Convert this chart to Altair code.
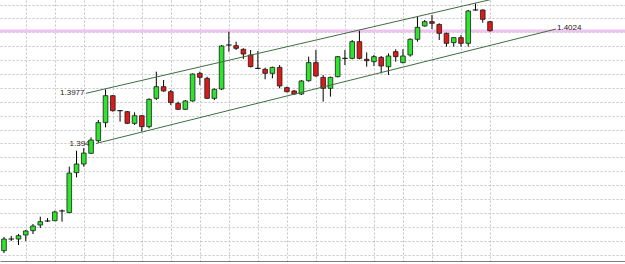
import altair as alt
import pandas as pd

# OHLC prices (EURUSD-like quotes)
opens = [1.38658, 1.38742, 1.38742, 1.38771, 1.38802, 1.38843, 1.38872, 1.38874, 1.38944, 1.38932,
         1.39220, 1.39282, 1.39359, 1.39450, 1.39580, 1.39774, 1.39666, 1.39659, 1.39575, 1.39630,
         1.39551, 1.39755, 1.39839, 1.39803, 1.39719, 1.39676, 1.39736, 1.39935, 1.39899, 1.39755,
         1.39822, 1.40139, 1.40134, 1.40108, 1.40067, 1.39971, 1.39964, 1.39935, 1.39978, 1.39832,
         1.39808, 1.39786, 1.39882, 1.40012, 1.39906, 1.39827, 1.39911, 1.40043, 1.40043, 1.40163,
         1.40036, 1.40019, 1.40050, 1.39983, 1.40091, 1.40012, 1.40067, 1.40180, 1.40276, 1.40307,
         1.40287, 1.40223, 1.40156, 1.40192, 1.40151, 1.40391, 1.40391, 1.40307]
closes = [1.38742, 1.38742, 1.38766, 1.38800, 1.38836, 1.38867, 1.38872, 1.38937, 1.38944, 1.39217,
          1.39282, 1.39361, 1.39455, 1.39580, 1.39774, 1.39666, 1.39666, 1.39575, 1.39630, 1.39551,
          1.39748, 1.39839, 1.39808, 1.39724, 1.39676, 1.39736, 1.39930, 1.39906, 1.39755, 1.39820,
          1.40132, 1.40139, 1.40115, 1.40074, 1.39983, 1.39971, 1.39935, 1.39978, 1.39844, 1.39803,
          1.39786, 1.39880, 1.40012, 1.39916, 1.39827, 1.39906, 1.40055, 1.40043, 1.40163, 1.40043,
          1.40026, 1.40055, 1.39988, 1.40060, 1.40055, 1.40060, 1.40180, 1.40266, 1.40307, 1.40295,
          1.40223, 1.40151, 1.40192, 1.40151, 1.40384, 1.40391, 1.40324, 1.40242]
highs = [1.38757, 1.38764, 1.38778, 1.38807, 1.38850, 1.38903, 1.38893, 1.38946, 1.38955, 1.39263,
         1.39378, 1.39397, 1.39474, 1.39599, 1.39820, 1.39779, 1.39669, 1.39664, 1.39654, 1.39635,
         1.39755, 1.39947, 1.39887, 1.39815, 1.39731, 1.39743, 1.39935, 1.39947, 1.39911, 1.39827,
         1.40139, 1.40235, 1.40163, 1.40115, 1.40103, 1.40096, 1.39976, 1.39983, 1.39995, 1.39839,
         1.39815, 1.39887, 1.40055, 1.40103, 1.39923, 1.39911, 1.40060, 1.40103, 1.40175, 1.40242,
         1.40086, 1.40067, 1.40060, 1.40079, 1.40108, 1.40108, 1.40187, 1.40343, 1.40319, 1.40355,
         1.40295, 1.40228, 1.40194, 1.40211, 1.40391, 1.40438, 1.40396, 1.40312]
lows = [1.38641, 1.38728, 1.38699, 1.38728, 1.38778, 1.38821, 1.38865, 1.38872, 1.38867, 1.38929,
        1.39186, 1.39263, 1.39354, 1.39436, 1.39546, 1.39659, 1.39587, 1.39570, 1.39563, 1.39515,
        1.39539, 1.39743, 1.39803, 1.39707, 1.39671, 1.39671, 1.39731, 1.39851, 1.39750, 1.39743,
        1.39815, 1.40091, 1.40103, 1.40038, 1.39978, 1.39966, 1.39892, 1.39899, 1.39827, 1.39798,
        1.39779, 1.39779, 1.39875, 1.39911, 1.39731, 1.39767, 1.39906, 1.39995, 1.40036, 1.40036,
        1.39983, 1.39988, 1.39935, 1.39923, 1.40019, 1.40007, 1.40055, 1.40163, 1.40271, 1.40254,
        1.40175, 1.40127, 1.40127, 1.40127, 1.40127, 1.40387, 1.40300, 1.40235]

# grid levels (10 pips) and grid bars (every 4th bar)
grid_prices = [1.4043, 1.4033, 1.4023, 1.4013, 1.4003, 1.3993, 1.3983, 1.3973, 1.3963, 1.3953,
               1.3943, 1.3933, 1.3923, 1.3913, 1.3903, 1.3893, 1.3883, 1.3873, 1.3863]
grid_bars = [3, 7, 11, 15, 19, 23, 27, 31, 35, 39, 43, 47, 51, 55, 59, 63, 67]

# horizontal level and channel trend lines
level_price = 1.4024
upper_bars = [11.30, 71.13]
upper_prices = [1.39791, 1.40515]
lower_bars = [12.68, 76.10]
lower_prices = [1.39430, 1.40254]

# annotations
label_texts = ["1.3977", "1.3944"]
label_bars = [11.10, 12.41]
label_prices = [1.39793, 1.39426]
level_label = "1.4024"
level_label_bar = 76.23
level_label_price = 1.40265

n = len(opens)
kind = ["up" if c > o else ("down" if c < o else "doji") for o, c in zip(opens, closes)]
df = pd.DataFrame({"i": list(range(n)), "o": opens, "h": highs, "l": lows, "c": closes, "kind": kind})

lines_df = pd.DataFrame({
    "i": upper_bars + lower_bars,
    "p": upper_prices + lower_prices,
    "line": ["upper", "upper", "lower", "lower"],
})
labels_df = pd.DataFrame({"i": label_bars, "p": label_prices, "t": label_texts})
level_df = pd.DataFrame({"i": [level_label_bar], "p": [level_label_price], "t": [level_label]})

W, H = 625, 262
xscale = alt.Scale(domain=[-0.551, 85.61], nice=False, zero=False)
yscale = alt.Scale(domain=[1.385766, 1.40463], nice=False, zero=False)

GRID = "#c4c4c4"
xaxis = alt.Axis(values=grid_bars, grid=True, gridColor=GRID, gridDash=[2, 2], gridWidth=1,
                 domain=True, domainColor="#000000", domainWidth=2, ticks=False, labels=False, title=None)
yaxis = alt.Axis(values=grid_prices, grid=True, gridColor=GRID, gridDash=[2, 2], gridWidth=1,
                 domain=False, ticks=False, labels=False, title=None)


def X(field):
    return alt.X(field, type="quantitative", scale=xscale, axis=xaxis)


def Y(field):
    return alt.Y(field, type="quantitative", scale=yscale, axis=yaxis)


base = alt.Chart(df)

level = alt.Chart(pd.DataFrame({"p": [level_price]})).mark_rule(
    color="#efc3ef", strokeWidth=3
).encode(y=Y("p"))

labels = alt.Chart(labels_df).mark_text(
    align="right", baseline="middle", font="Liberation Sans", fontSize=8, color="#222222"
).encode(x=X("i"), y=Y("p"), text="t:N")

level_text = alt.Chart(level_df).mark_text(
    align="left", baseline="middle", font="Liberation Sans", fontSize=8, color="#222222"
).encode(x=X("i"), y=Y("p"), text="t:N")

wicks = base.mark_rule(color="#000000", strokeWidth=1).encode(x=X("i"), y=Y("l"), y2="h")

bodies = base.transform_filter("datum.kind != 'doji'").transform_calculate(
    xl="datum.i - 0.32", xr="datum.i + 0.32"
).mark_rect(stroke="#1a1a1a", strokeWidth=0.8).encode(
    x=X("xl"), x2="xr", y=Y("o"), y2="c",
    fill=alt.Fill("kind:N", scale=alt.Scale(domain=["up", "down"], range=["#2ee52e", "#dd1a1a"]), legend=None),
)

dojis = base.transform_filter("datum.kind == 'doji'").transform_calculate(
    xl="datum.i - 0.38", xr="datum.i + 0.38"
).mark_rule(color="#000000", strokeWidth=1).encode(x=X("xl"), x2="xr", y=Y("o"))

trend = alt.Chart(lines_df).mark_line(color="#3f6e3f", strokeWidth=1, clip=True).encode(
    x=X("i"), y=Y("p"), detail="line:N"
)

chart = alt.layer(level, labels, level_text, wicks, bodies, dojis, trend).properties(
    width=W, height=H, padding=0, autosize=alt.AutoSizeParams(type="none"),
    background="#ffffff",
).configure_view(stroke=None)

chart.save("out.html", embed_options={"renderer": "svg", "actions": False})
